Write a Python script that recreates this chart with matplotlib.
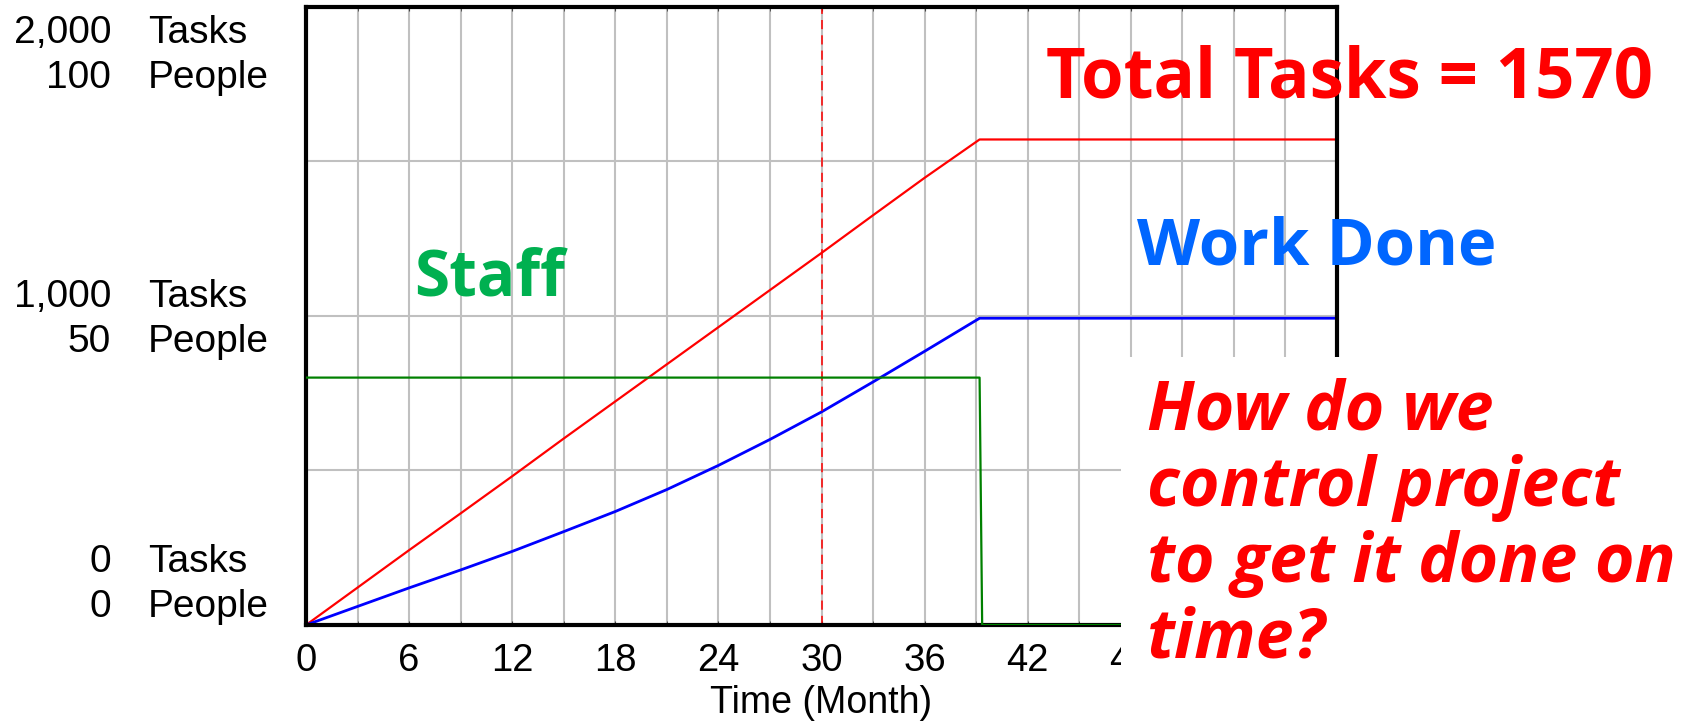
import matplotlib
matplotlib.use('Agg')
import matplotlib.pyplot as plt
from matplotlib.patches import Rectangle

# values at 3-month steps
months = [0, 3, 6, 9, 12, 15, 18, 21, 24, 27, 30, 33, 36, 39.2, 60]
total_tasks = [0, 121, 242, 361, 481, 603, 723, 843, 963, 1083, 1203, 1325, 1446, 1570, 1570]
work_done = [0, 60, 120, 178, 238, 302, 367, 438, 516, 600, 689, 786, 885, 992, 992]

staff_months = [0, 39.2, 39.35, 60]
staff_people = [40, 40, 0, 0]

check_month = 30
x_ticks = list(range(0, 61, 6))
x_labels = ['0', '6', '12', '18', '24', '30', '36', '42', '48', '', '']  # 54, 60 sit under the note
task_labels = ['2,000', '1,000', '0']
people_labels = ['100', '50', '0']

W, H = 1694, 722
AX_FONT = 'Liberation Sans'
NOTE_FONT = ['Open Sans', 'DejaVu Sans']


def fx(px):
    return px / W


def fy(py):
    return 1 - py / H


fig = plt.figure(figsize=(W / 100, H / 100), dpi=100)
ax = fig.add_axes([fx(306), fy(625), fx(1337) - fx(306), fy(6.5) - fy(625)])

ax.set_xlim(0, 60)
ax.set_ylim(0, 2000)
ax.set_xticks(x_ticks)
ax.set_xticklabels(x_labels)
ax.set_xticks(range(0, 61, 3), minor=True)
ax.set_yticks(range(0, 2001, 500))
ax.set_yticklabels([])
ax.grid(True, which='both', color='#c0c0c0', lw=1.5, zorder=0)
ax.tick_params(axis='x', which='both', direction='in', length=3, top=True,
               pad=13, labelsize=27.5, color='#444444')
ax.tick_params(axis='y', length=0)
for lab in ax.get_xticklabels():
    lab.set_fontfamily(AX_FONT)
for sp in ax.spines.values():
    sp.set_linewidth(3)
    sp.set_zorder(4)

ax.plot(months, total_tasks, color='red', lw=1.6, zorder=3)
ax.plot(months, work_done, color='blue', lw=2.0, zorder=3)
ax.axvline(check_month, color='red', lw=1.1, ls=(0, (6, 4)), zorder=3)

# staff on the people scale (100 people = 2,000 tasks)
ax2 = ax.twinx()
ax2.set_ylim(0, 100)
ax2.plot(staff_months, staff_people, color='#008000', lw=1.6)
ax2.set_yticks([])
for sp in ax2.spines.values():
    sp.set_visible(False)

# y labels, Vensim style (value + unit)
rows = [(43, 88), (307, 352), (572, 617)]
for (ya, yb), t, p in zip(rows, task_labels, people_labels):
    fig.text(fx(111), fy(ya), t, ha='right', va='baseline', fontsize=28, family=AX_FONT)
    fig.text(fx(148), fy(ya), 'Tasks', ha='left', va='baseline', fontsize=28, family=AX_FONT)
    fig.text(fx(111), fy(yb), p, ha='right', va='baseline', fontsize=28, family=AX_FONT)
    fig.text(fx(148), fy(yb), 'People', ha='left', va='baseline', fontsize=28, family=AX_FONT)

fig.text(fx(821), fy(713), 'Time (Month)', ha='center', va='baseline', fontsize=27, family=AX_FONT)

# white box behind the question
fig.add_artist(Rectangle((fx(1121), 0), 1 - fx(1121), fy(357), transform=fig.transFigure,
                         facecolor='white', edgecolor='none', zorder=5))

fig.text(fx(1046), fy(97), 'Total Tasks = 1570', color='red', fontsize=49.5,
         fontweight='bold', family=NOTE_FONT, va='baseline', zorder=6)
fig.text(fx(1137), fy(265), 'Work Done', color='#0066ff', fontsize=47,
         fontweight='bold', family=NOTE_FONT, va='baseline', zorder=6)
fig.text(fx(414), fy(295), 'Staff', color='#00b050', fontsize=46,
         fontweight='bold', family=NOTE_FONT, va='baseline', zorder=6)

question = ['How do we', 'control project', 'to get it done on', 'time?']
for i, line in enumerate(question):
    fig.text(fx(1147), fy(430 + 76 * i), line, color='red', fontsize=49,
             fontweight='bold', fontstyle='italic', family=NOTE_FONT,
             va='baseline', zorder=6)

fig.savefig('out.png', dpi=100, facecolor='white')
